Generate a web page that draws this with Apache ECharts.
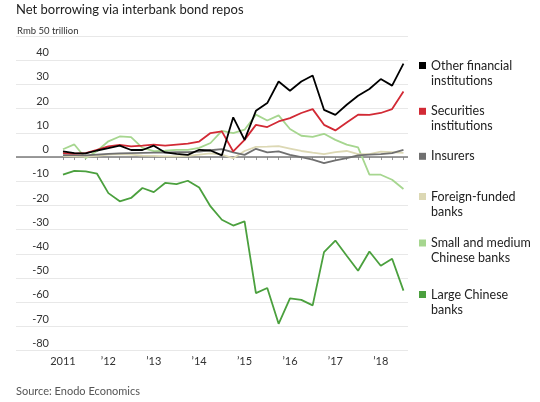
<!DOCTYPE html>
<html style="height: 100%">
    <head>
        <meta charset="utf-8">
    </head>
    <body style="height: 100%; margin: 0; background: #fff">
        <div id="container" style="width: 540px; height: 402px"></div>

        <script type="text/javascript" src="https://cdn.jsdelivr.net/npm/echarts@6/dist/echarts.min.js"></script>

        <script type="text/javascript">
// quarters from 2011 Q1 (index 0) to 2018 Q3 (index 30)
var yearLabels = ['2011', '\u201912', '\u201913', '\u201914', '\u201915', '\u201916', '\u201917', '\u201918'];

var otherFinancial = [2.3, 1.6, 1.5, 2.7, 3.7, 4.7, 2.9, 2.9, 4.7, 1.9, 1.3, 0.9, 3.0, 2.7, 0.7,
    16.4, 7.1, 19.1, 22.3, 31.2, 27.4, 31.2, 33.7, 19.5, 17.4, 21.6, 25.3, 28.1, 32.2, 29.5, 38.6];
var securities = [1.6, 1.4, 1.6, 3.0, 4.4, 5.0, 4.4, 4.7, 5.1, 4.7, 5.1, 5.5, 6.4, 9.9, 10.6,
    2.3, 7.1, 13.3, 12.4, 14.7, 16.1, 18.2, 19.8, 13.3, 11.0, 14.3, 17.5, 17.4, 18.2, 19.8, 27.1];
var insurers = [0.8, 0.8, 0.7, 1.0, 1.3, 1.5, 1.6, 1.7, 1.8, 1.8, 2.0, 2.0, 2.2, 2.8, 3.3,
    1.9, 0.9, 3.4, 1.9, 2.3, 0.9, 0.0, -1.1, -2.5, -1.4, -0.4, 0.7, 1.0, 1.2, 1.6, 3.0];
var foreignFunded = [0.5, 0.3, 0.2, 0.5, 1.0, 1.2, 1.0, 0.6, 0.5, 0.3, 0.3, 0.5, 1.0, 1.5, 1.0,
    -0.5, 2.5, 4.2, 4.3, 4.5, 3.5, 2.5, 1.8, 1.2, 2.0, 2.5, 1.2, 1.2, 2.2, 2.0, 1.7];
var smallMedium = [3.2, 5.2, -0.5, 2.5, 6.5, 8.5, 8.2, 3.8, 2.4, 2.6, 3.0, 3.0, 3.8, 5.8, 10.8,
    9.9, 11.3, 17.5, 15.1, 17.2, 11.6, 8.8, 8.3, 9.6, 7.1, 5.1, 4.0, -7.3, -7.3, -9.4, -13.2];
var largeChinese = [-7.3, -5.7, -5.9, -6.9, -14.9, -18.3, -16.9, -12.8, -14.5, -10.7, -11.2, -9.8, -12.6, -20.4, -25.9,
    -28.3, -26.6, -56.2, -54.1, -68.9, -58.4, -59.0, -61.3, -39.3, -34.5, -40.8, -47.0, -39.0, -44.9, -42.0, -55.2];

var seriesNames = ['Other financial institutions', 'Securities institutions', 'Insurers',
    'Foreign-funded banks', 'Small and medium Chinese banks', 'Large Chinese banks'];
var legendText = ['Other financial\ninstitutions', 'Securities\ninstitutions', 'Insurers',
    'Foreign-funded\nbanks', 'Small and medium\nChinese banks', 'Large Chinese\nbanks'];
var seriesValues = [otherFinancial, securities, insurers, foreignFunded, smallMedium, largeChinese];
var colors = ['#000000', '#d22a35', '#707070', '#dcd8b4', '#a6d68f', '#4ba03e'];
var zOrder = [8, 7, 6, 4, 3, 5];
var legendCenters = [65.5, 111.3, 156.3, 196.5, 243, 294.5];

var FONT = 'Lato';

var dom = document.getElementById('container');
var myChart = echarts.init(dom);

var toPairs = function (arr) {
    var res = [];
    for (var i = 0; i < arr.length; i++) {
        res.push([i, arr[i]]);
    }
    return res;
};

var series = [];
var legends = [];
for (var s = 0; s < seriesNames.length; s++) {
    series.push({
        name: seriesNames[s],
        type: 'line',
        data: toPairs(seriesValues[s]),
        symbol: 'none',
        color: colors[s],
        lineStyle: { width: 1.8, color: colors[s] },
        z: zOrder[s]
    });
    // two-line labels get an empty leading line so the square sits by the first line
    var twoLines = legendText[s].indexOf('\n') >= 0;
    legends.push({
        data: [seriesNames[s]],
        left: 419,
        top: legendCenters[s] - (twoLines ? 22.5 : 7.5),
        padding: 0,
        icon: 'rect',
        itemWidth: 7,
        itemHeight: 7,
        itemGap: 0,
        selectedMode: false,
        formatter: (function (txt) {
            return function () { return txt; };
        })(twoLines ? ' \n' + legendText[s] : legendText[s]),
        textStyle: {
            fontFamily: FONT,
            fontSize: 12.5,
            color: '#222',
            lineHeight: 15
        }
    });
}

// dark zero line
series[2].markLine = {
    silent: true,
    symbol: 'none',
    label: { show: false },
    lineStyle: { color: '#7a7a7a', width: 1.6, type: 'solid' },
    data: [{ yAxis: 0 }],
    z: 2
};

var option = {
    animation: false,
    backgroundColor: '#fff',
    grid: {
        left: 16,
        right: 132,
        top: 36,
        bottom: 51.3
    },
    legend: legends,
    xAxis: {
        type: 'value',
        min: -4.14,
        max: 30.4,
        axisLine: { show: false },
        splitLine: { show: false },
        axisTick: {
            show: true,
            length: 3,
            customValues: toPairs(otherFinancial).map(function (p) { return p[0]; }),
            lineStyle: { color: '#999', width: 1 }
        },
        axisLabel: {
            customValues: [0, 4, 8, 12, 16, 20, 24, 28],
            margin: 5,
            fontFamily: FONT,
            fontSize: 11,
            color: '#333',
            formatter: function (v) { return yearLabels[Math.round(v / 4)]; }
        }
    },
    yAxis: {
        type: 'value',
        min: -80,
        max: 50,
        interval: 10,
        axisLine: { show: false },
        axisTick: { show: false },
        splitLine: { lineStyle: { color: '#e8e8e8', width: 1 } },
        axisLabel: {
            inside: true,
            margin: 33,
            align: 'right',
            verticalAlign: 'bottom',
            padding: [0, 0, 2, 0],
            fontFamily: FONT,
            fontSize: 11,
            color: '#333',
            formatter: function (v) { return v === 50 ? '' : String(v); }
        }
    },
    graphic: [
        {
            type: 'text',
            left: 16,
            top: 3,
            style: {
                text: 'Net borrowing via interbank bond repos',
                fontFamily: FONT,
                fontSize: 13,
                fill: '#222'
            }
        },
        {
            type: 'text',
            left: 17,
            top: 26,
            style: {
                text: 'Rmb 50 trillion',
                fontFamily: FONT,
                fontSize: 9.5,
                fill: '#333'
            }
        },
        {
            type: 'text',
            left: 16,
            top: 386,
            style: {
                text: 'Source: Enodo Economics',
                fontFamily: FONT,
                fontSize: 11,
                fill: '#555'
            }
        }
    ],
    series: series
};

myChart.setOption(option);
        </script>
    </body>
</html>
